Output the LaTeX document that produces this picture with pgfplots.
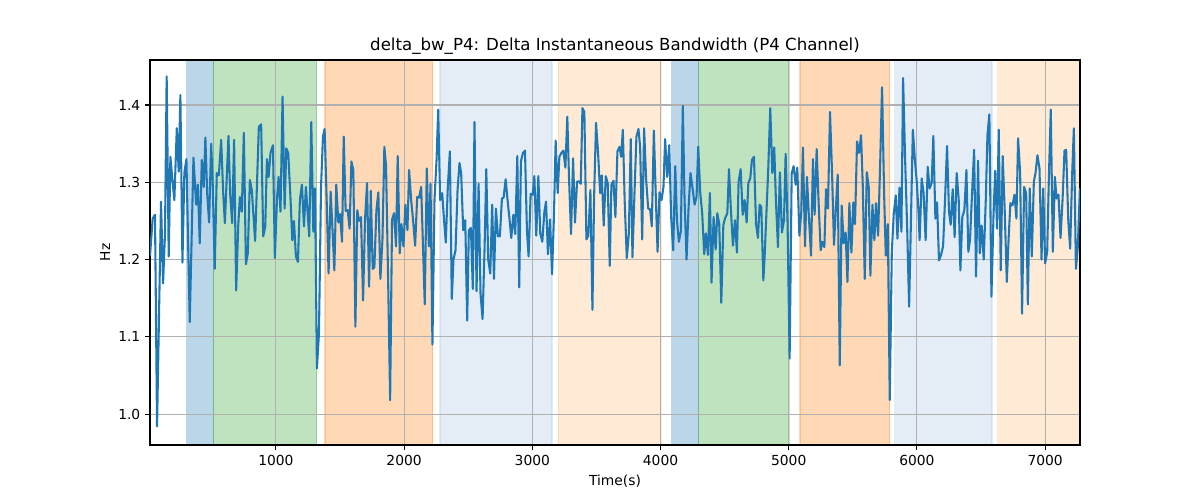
\documentclass[border=0pt]{standalone}
\usepackage{fontspec}
\setmainfont{DejaVu Sans}
\usepackage{pgfplots}
\usepackage{pgfplotstable}
\pgfplotsset{compat=1.18}
\definecolor{tabblue}{HTML}{1F77B4}
\definecolor{tabgreen}{HTML}{2CA02C}
\definecolor{taborange}{HTML}{FF7F0E}
\definecolor{ltblue}{RGB}{165,192,225}
\definecolor{ltorange}{RGB}{255,187,120}
\definecolor{gridgray}{HTML}{B0B0B0}
\pgfplotstableread{
x y
18 1.205
39 1.253
57 1.258
73 0.984
104 1.275
120 1.169
135 1.234
148 1.437
164 1.204
177 1.333
195 1.299
208 1.277
227 1.370
242 1.314
255 1.413
271 1.196
286 1.312
302 1.330
328 1.119
357 1.332
378 1.271
391 1.297
406 1.221
422 1.329
437 1.294
450 1.358
464 1.286
479 1.248
495 1.350
508 1.294
523 1.188
539 1.312
555 1.309
573 1.355
589 1.286
602 1.247
630 1.360
643 1.286
659 1.247
674 1.355
690 1.160
706 1.243
719 1.281
734 1.262
750 1.364
766 1.194
781 1.208
797 1.303
812 1.290
838 1.224
867 1.372
885 1.375
901 1.230
917 1.243
930 1.330
943 1.307
958 1.338
977 1.348
992 1.202
1008 1.277
1021 1.307
1036 1.262
1052 1.411
1068 1.266
1081 1.344
1096 1.338
1112 1.286
1128 1.225
1141 1.250
1156 1.204
1172 1.197
1187 1.277
1203 1.297
1219 1.243
1234 1.294
1260 1.230
1276 1.378
1292 1.236
1305 1.292
1320 1.059
1336 1.105
1352 1.294
1367 1.359
1380 1.369
1396 1.277
1411 1.182
1427 1.288
1443 1.234
1456 1.186
1471 1.297
1487 1.248
1500 1.259
1516 1.223
1529 1.359
1544 1.263
1560 1.264
1575 1.240
1589 1.327
1604 1.316
1620 1.113
1635 1.264
1648 1.250
1664 1.255
1680 1.147
1695 1.251
1711 1.299
1727 1.165
1740 1.289
1755 1.188
1768 1.190
1784 1.264
1799 1.287
1815 1.175
1831 1.225
1846 1.346
1859 1.322
1875 1.178
1891 1.018
1906 1.252
1922 1.260
1937 1.217
1950 1.334
1966 1.208
1979 1.246
1995 1.217
2010 1.271
2026 1.238
2039 1.316
2055 1.277
2070 1.251
2086 1.218
2102 1.281
2117 1.280
2133 1.294
2146 1.225
2161 1.142
2177 1.318
2193 1.217
2206 1.298
2221 1.090
2237 1.277
2253 1.329
2266 1.394
2281 1.277
2297 1.286
2310 1.255
2325 1.222
2341 1.294
2357 1.340
2372 1.149
2385 1.200
2401 1.212
2417 1.290
2432 1.325
2445 1.312
2461 1.238
2477 1.251
2492 1.121
2505 1.238
2521 1.241
2536 1.162
2549 1.378
2565 1.159
2581 1.298
2596 1.156
2612 1.123
2628 1.217
2641 1.317
2656 1.200
2672 1.182
2687 1.271
2701 1.175
2716 1.266
2732 1.230
2747 1.230
2763 1.279
2776 1.280
2792 1.304
2807 1.277
2823 1.251
2836 1.228
2852 1.258
2867 1.233
2883 1.334
2898 1.164
2911 1.327
2927 1.338
2943 1.341
2958 1.238
2971 1.204
2987 1.285
3003 1.284
3016 1.308
3031 1.231
3047 1.308
3062 1.234
3078 1.223
3094 1.262
3107 1.275
3122 1.207
3138 1.252
3154 1.181
3169 1.258
3182 1.354
3198 1.286
3211 1.333
3227 1.338
3242 1.341
3258 1.319
3273 1.385
3286 1.307
3302 1.233
3318 1.331
3333 1.248
3349 1.301
3365 1.301
3378 1.298
3391 1.396
3406 1.391
3422 1.226
3437 1.231
3453 1.290
3469 1.135
3482 1.281
3497 1.377
3513 1.338
3529 1.286
3542 1.309
3557 1.244
3573 1.308
3588 1.299
3604 1.192
3617 1.297
3633 1.302
3648 1.255
3664 1.340
3680 1.346
3693 1.333
3706 1.368
3721 1.273
3737 1.202
3753 1.234
3768 1.356
3781 1.203
3797 1.286
3812 1.359
3828 1.369
3841 1.346
3857 1.226
3872 1.370
3888 1.303
3904 1.266
3919 1.265
3932 1.243
3948 1.367
3964 1.277
3977 1.210
3992 1.287
4008 1.277
4023 1.294
4036 1.356
4052 1.307
4068 1.348
4083 1.255
4099 1.212
4115 1.321
4128 1.251
4143 1.223
4159 1.237
4174 1.399
4187 1.281
4203 1.200
4219 1.268
4234 1.312
4250 1.292
4266 1.271
4281 1.281
4294 1.346
4310 1.286
4325 1.260
4341 1.207
4354 1.234
4370 1.206
4385 1.286
4398 1.170
4414 1.255
4430 1.213
4443 1.260
4458 1.246
4474 1.144
4490 1.245
4505 1.254
4521 1.260
4534 1.317
4549 1.264
4565 1.218
4581 1.251
4596 1.209
4609 1.301
4625 1.317
4641 1.258
4656 1.277
4672 1.248
4685 1.299
4700 1.305
4713 1.329
4729 1.333
4745 1.246
4760 1.228
4773 1.271
4786 1.268
4802 1.173
4812 1.204
4827 1.264
4840 1.316
4856 1.396
4872 1.312
4887 1.345
4900 1.277
4916 1.216
4931 1.313
4947 1.235
4963 1.251
4976 1.337
4991 1.247
5007 1.072
5023 1.311
5038 1.321
5054 1.297
5067 1.319
5083 1.231
5098 1.262
5111 1.345
5127 1.217
5142 1.307
5158 1.253
5174 1.205
5189 1.330
5202 1.258
5218 1.343
5234 1.270
5249 1.212
5262 1.223
5278 1.216
5291 1.291
5306 1.266
5322 1.391
5338 1.312
5353 1.219
5369 1.270
5382 1.310
5398 1.063
5413 1.270
5429 1.221
5444 1.235
5458 1.171
5473 1.273
5489 1.209
5504 1.274
5517 1.246
5533 1.353
5549 1.338
5564 1.361
5577 1.299
5593 1.175
5609 1.313
5624 1.294
5637 1.179
5653 1.271
5668 1.225
5681 1.273
5697 1.231
5713 1.322
5728 1.423
5744 1.286
5757 1.205
5773 1.246
5788 1.018
5804 1.209
5819 1.259
5835 1.283
5848 1.227
5864 1.293
5879 1.236
5892 1.435
5908 1.329
5924 1.240
5939 1.139
5952 1.240
5968 1.368
5984 1.329
5999 1.300
6012 1.262
6021 1.225
6037 1.305
6052 1.286
6068 1.225
6084 1.320
6099 1.292
6115 1.299
6128 1.360
6144 1.253
6157 1.274
6172 1.199
6188 1.206
6204 1.217
6219 1.277
6235 1.347
6250 1.262
6263 1.245
6279 1.291
6294 1.229
6310 1.312
6326 1.277
6339 1.186
6354 1.255
6370 1.264
6386 1.316
6401 1.210
6414 1.225
6430 1.286
6446 1.342
6461 1.178
6477 1.328
6490 1.208
6505 1.244
6521 1.200
6537 1.277
6550 1.361
6565 1.388
6581 1.152
6597 1.255
6610 1.315
6625 1.240
6638 1.368
6654 1.186
6669 1.334
6685 1.262
6701 1.171
6716 1.230
6729 1.273
6745 1.270
6761 1.284
6776 1.253
6789 1.357
6805 1.312
6820 1.130
6836 1.294
6852 1.286
6865 1.142
6880 1.292
6896 1.204
6912 1.301
6925 1.312
6940 1.335
6956 1.318
6972 1.200
6985 1.292
7000 1.195
7016 1.210
7029 1.305
7044 1.394
7060 1.210
7076 1.307
7089 1.279
7104 1.284
7120 1.228
7136 1.278
7151 1.341
7164 1.342
7180 1.252
7195 1.214
7211 1.312
7224 1.370
7240 1.188
7255 1.217
7271 1.292
}\datatable
\pgfplotsset{
  mybase/.style={
    at={(0,0)}, anchor=south west,
    width=9.3in, height=3.85in, scale only axis,
    xmin=18, xmax=7272, ymin=0.96, ymax=1.4583,
  },
  span/.style={draw=#1, draw opacity=0.3, fill=#1, fill opacity=0.3, line width=1pt},
}
\begin{document}
\begin{tikzpicture}
\path[use as bounding box] (-1.5in,-0.55in) rectangle (10.5in,4.45in);
\begin{axis}[mybase, hide axis]
\addplot[span=tabblue] coordinates {(305,0.9) (512,0.9) (512,1.5) (305,1.5)} -- cycle;
\addplot[span=tabgreen] coordinates {(512,0.9) (1318,0.9) (1318,1.5) (512,1.5)} -- cycle;
\addplot[span=taborange] coordinates {(1383,0.9) (2222,0.9) (2222,1.5) (1383,1.5)} -- cycle;
\addplot[span=ltblue] coordinates {(2281,0.9) (3154,0.9) (3154,1.5) (2281,1.5)} -- cycle;
\addplot[span=ltorange] coordinates {(3203,0.9) (4003,0.9) (4003,1.5) (3203,1.5)} -- cycle;
\addplot[span=tabblue] coordinates {(4086,0.9) (4297,0.9) (4297,1.5) (4086,1.5)} -- cycle;
\addplot[span=tabgreen] coordinates {(4297,0.9) (5004,0.9) (5004,1.5) (4297,1.5)} -- cycle;
\addplot[span=taborange] coordinates {(5088,0.9) (5788,0.9) (5788,1.5) (5088,1.5)} -- cycle;
\addplot[span=ltblue] coordinates {(5826,0.9) (6586,0.9) (6586,1.5) (5826,1.5)} -- cycle;
\addplot[span=ltorange] coordinates {(6630,0.9) (7300,0.9) (7300,1.5) (6630,1.5)} -- cycle;
\end{axis}
\begin{axis}[
  mybase,
  xtick={1000,2000,3000,4000,5000,6000,7000},
  ytick={1.0,1.1,1.2,1.3,1.4},
  /pgf/number format/assume math mode=true,
  xticklabel style={/pgf/number format/1000 sep={}},
  yticklabel style={/pgf/number format/.cd, fixed, fixed zerofill, precision=1},
  tick label style={font=\fontsize{10}{12}\selectfont, black},
  tick align=outside, xtick pos=bottom, ytick pos=left,
  major tick length=3.5pt,
  tick style={black, line width=0.8pt},
  axis line style={line width=0.8pt},
  grid=major, grid style={color=gridgray, line width=0.8pt},
  every axis title shift=0pt,
  title={delta\_bw\_P4: Delta Instantaneous Bandwidth (P4 Channel)},
  title style={at={(axis description cs:0.5,1.036)}, anchor=center, font=\fontsize{12}{14}\selectfont},
  xlabel={Time(s)},
  xlabel style={at={(axis description cs:0.5,-0.0935)}, anchor=center, font=\fontsize{10}{12}\selectfont},
  ylabel={Hz},
  ylabel style={at={(axis description cs:-0.0484,0.5)}, anchor=center, rotate=0, font=\fontsize{10}{12}\selectfont},
]
\addplot[tabblue, line width=1.5pt, mark=none, line join=round] table[x=x, y=y] {\datatable};
\end{axis}
\end{tikzpicture}
\end{document}
